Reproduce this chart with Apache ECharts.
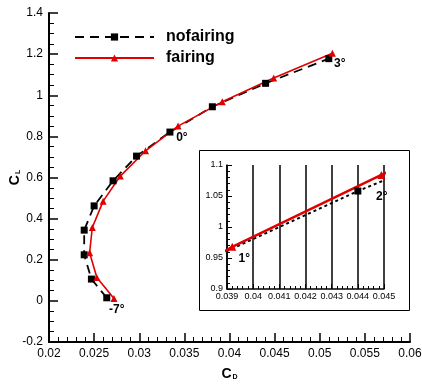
<!DOCTYPE html>
<html>
<head>
<meta charset="utf-8">
<script src="https://cdn.jsdelivr.net/npm/echarts@6/dist/echarts.min.js"></script>
<style>
  html, body { margin: 0; padding: 0; background: #fff; }
  #chart { width: 422px; height: 387px; }
</style>
</head>
<body>
<div id="chart"></div>
<script>
// Angle of attack (deg) for each polar point
const alpha = [-7, -6, -5, -4, -3, -2, -1, 0, 1, 2, 3];
// Drag / lift coefficients without fairing
const cdNofairing = [0.0264, 0.0247, 0.0239, 0.0239, 0.0250, 0.0271, 0.0297, 0.0334, 0.0381, 0.0440, 0.0510];
const clNofairing = [0.015, 0.106, 0.224, 0.344, 0.462, 0.584, 0.704, 0.821, 0.944, 1.058, 1.178];
// Drag / lift coefficients with fairing
const cdFairing = [0.0272, 0.0253, 0.0245, 0.0248, 0.0260, 0.0279, 0.0307, 0.0343, 0.0392, 0.0449, 0.0514];
const clFairing = [0.012, 0.114, 0.234, 0.357, 0.485, 0.607, 0.730, 0.850, 0.968, 1.084, 1.204];
// Angles annotated on each plot
const mainNofairingLabels = { '-7': [10, 12], '0': [12, 6], '3': [11, 5] };
const insetNofairingLabels = { '2': [24, 6] };
const insetFairingLabels = { '1': [12, 12] };

const FONT = "'Liberation Sans', Arial, sans-serif";
const RED = '#e00000';

function points(cd, cl, labels) {
  return cd.map((x, i) => {
    const item = { value: [x, cl[i]] };
    const off = labels[String(alpha[i])];
    if (off) {
      item.label = {
        show: true, position: 'inside', offset: off,
        formatter: alpha[i] + '°',
        fontFamily: FONT, fontWeight: 'bold', fontSize: 12, color: '#000'
      };
    }
    return item;
  });
}

const axisText = { color: '#000', fontFamily: FONT };
const nameRich = {
  b: { fontFamily: FONT, fontWeight: 'bold', fontSize: 14, color: '#000' },
  s: { fontFamily: FONT, fontWeight: 'bold', fontSize: 7, color: '#000', padding: [7, 0, 0, 1] }
};

const chart = echarts.init(document.getElementById('chart'), null, { renderer: 'canvas' });
chart.setOption({
  animation: false,
  backgroundColor: '#fff',
  legend: {
    orient: 'vertical', left: 69, top: 24,
    itemWidth: 79, itemHeight: 9, itemGap: 5,
    data: ['nofairing', 'fairing'],
    textStyle: { fontFamily: FONT, fontWeight: 'bold', fontSize: 16, color: '#000', padding: [0, 0, 0, 7] }
  },
  graphic: [{
    type: 'rect', z: 0,
    shape: { x: 199.5, y: 150.5, width: 210, height: 160 },
    style: { fill: '#fff', stroke: '#000', lineWidth: 1 }
  }],
  grid: [
    { left: 49, right: 12, top: 13, bottom: 45, outerBoundsMode: 'none', containLabel: false },
    { left: 227, right: 38, top: 165, bottom: 98, outerBoundsMode: 'none', containLabel: false }
  ],
  xAxis: [{
    gridIndex: 0, type: 'value', min: 0.02, max: 0.06, interval: 0.005,
    name: '{b|C}{s|D}', nameLocation: 'middle', nameGap: 25, nameMoveOverlap: false,
    nameTextStyle: { rich: nameRich },
    axisLine: { onZero: false, lineStyle: { color: '#000', width: 2 } },
    axisTick: { inside: true, length: 9, lineStyle: { color: '#000', width: 1.5 } },
    minorTick: { show: true, splitNumber: 5, length: 5, lineStyle: { color: '#000', width: 1 } },
    axisLabel: Object.assign({ fontSize: 12, margin: 6 }, axisText),
    splitLine: { show: false }
  }, {
    gridIndex: 1, type: 'value', min: 0.039, max: 0.045, interval: 0.001,
    axisLine: { onZero: false, lineStyle: { color: '#000', width: 1.5 } },
    axisTick: { inside: true, length: 5, lineStyle: { color: '#000', width: 1 } },
    minorTick: { show: true, splitNumber: 5, length: 3, lineStyle: { color: '#000', width: 1 } },
    axisLabel: Object.assign({ fontSize: 9, margin: 3 }, axisText),
    splitLine: { show: true, lineStyle: { color: '#000', width: 1.5 } }
  }],
  yAxis: [{
    gridIndex: 0, type: 'value', min: -0.2, max: 1.4, interval: 0.2,
    name: '{b|C}{s|L}', nameLocation: 'middle', nameGap: 27, nameRotate: 90, nameMoveOverlap: false,
    nameTextStyle: { rich: nameRich },
    axisLine: { onZero: false, lineStyle: { color: '#000', width: 2 } },
    axisTick: { inside: true, length: 9, lineStyle: { color: '#000', width: 1.5 } },
    minorTick: { show: true, splitNumber: 4, length: 5, lineStyle: { color: '#000', width: 1 } },
    axisLabel: Object.assign({ fontSize: 12, margin: 6 }, axisText),
    splitLine: { show: false }
  }, {
    gridIndex: 1, type: 'value', min: 0.9, max: 1.1, interval: 0.05,
    axisLine: { onZero: false, lineStyle: { color: '#000', width: 1.5 } },
    axisTick: { inside: true, length: 5, lineStyle: { color: '#000', width: 1 } },
    minorTick: { show: true, splitNumber: 5, length: 3, lineStyle: { color: '#000', width: 1 } },
    axisLabel: Object.assign({ fontSize: 9, margin: 4 }, axisText),
    splitLine: { show: false }
  }],
  series: [{
    name: 'nofairing', type: 'line', xAxisIndex: 0, yAxisIndex: 0,
    data: points(cdNofairing, clNofairing, mainNofairingLabels),
    symbol: 'rect', symbolSize: 7, color: '#000',
    itemStyle: { color: '#000' },
    lineStyle: { color: '#000', width: 1.8, type: [9, 6] }
  }, {
    name: 'fairing', type: 'line', xAxisIndex: 0, yAxisIndex: 0,
    data: points(cdFairing, clFairing, {}),
    symbol: 'triangle', symbolSize: 7, color: RED,
    itemStyle: { color: RED },
    lineStyle: { color: RED, width: 1.6 }
  }, {
    name: 'nofairing', type: 'line', xAxisIndex: 1, yAxisIndex: 1, clip: true,
    data: points(cdNofairing, clNofairing, insetNofairingLabels),
    symbol: 'rect', symbolSize: 7, color: '#000',
    itemStyle: { color: '#000' },
    lineStyle: { color: '#000', width: 2, type: [3, 3] }
  }, {
    name: 'fairing', type: 'line', xAxisIndex: 1, yAxisIndex: 1, clip: true,
    data: points(cdFairing, clFairing, insetFairingLabels),
    symbol: 'triangle', symbolSize: 8, color: RED,
    itemStyle: { color: RED },
    lineStyle: { color: RED, width: 2.5 }
  }]
});
</script>
</body>
</html>
